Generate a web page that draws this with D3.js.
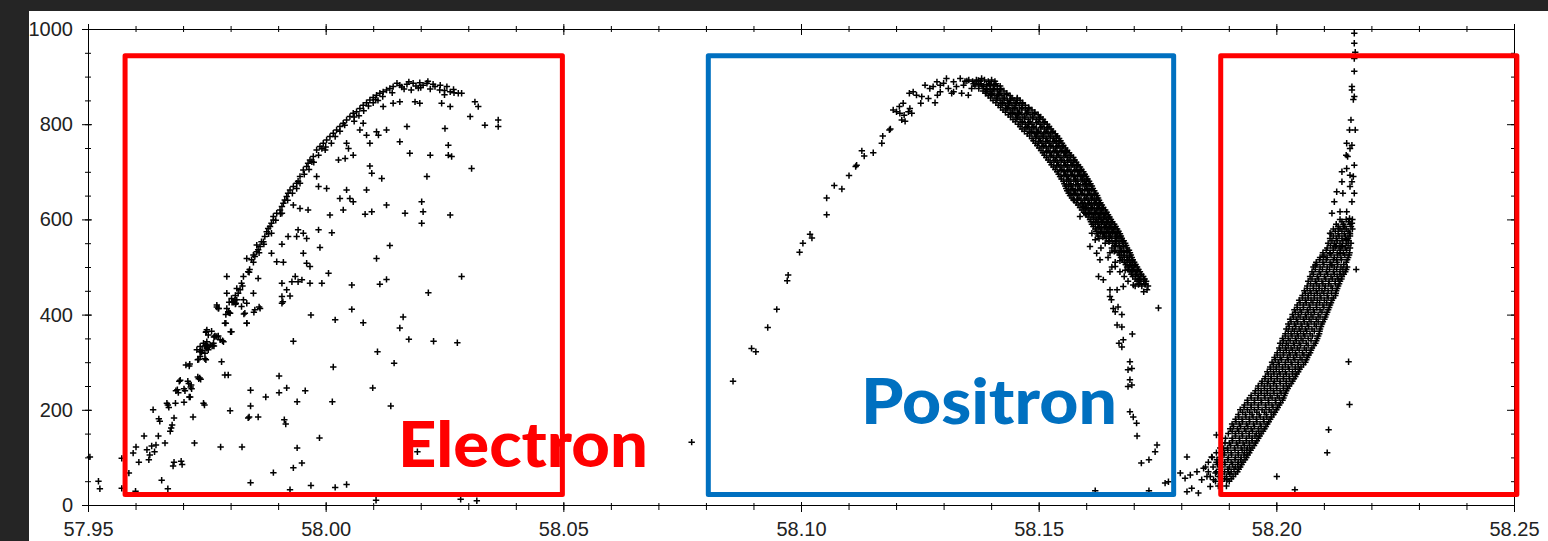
<!DOCTYPE html>
<html>
<head>
<meta charset="utf-8">
<script src="https://cdn.jsdelivr.net/npm/d3@7"></script>
<style>
  body { margin: 0; background: #252525; }
  .tick text { font-family: "Liberation Sans", Arial, sans-serif; font-size: 20px; fill: #222; }
  .domain, .tick line { stroke: #000; stroke-width: 1px; }
</style>
</head>
<body>
<div id="chart"></div>
<script>
// axis ticks
var xTicks = [57.95, 58.00, 58.05, 58.10, 58.15, 58.20, 58.25];
var yTicks = [0, 200, 400, 600, 800, 1000];

// electron branch (left) - scattered points [x, y]
var electronPts = [
  [57.9504,101],[57.9522,50],[57.9525,34],[57.9571,98],[57.9571,35],[57.9586,67],[57.9600,29],[57.9595,109],[57.9601,122],[57.9607,90],[57.9618,145],
  [57.9624,116],[57.9630,105],[57.9634,124],[57.9628,95],[57.9640,112],[57.9643,126],
  [57.9637,200],[57.9649,181],[57.9651,176],[57.9648,145],[57.9655,52],[57.9662,130],[57.9668,34],
  [57.9668,210],[57.9670,205],[57.9666,214],[57.9675,162],[57.9677,168],[57.9673,155],
  [57.9681,183],[57.9684,214],[57.9685,240],[57.9688,242],[57.9690,236],
  [57.9679,82],[57.9681,90],[57.9696,92],[57.9698,85],
  [57.9692,260],[57.9694,262],[57.9702,216],[57.9702,244],[57.9704,240],[57.9706,294],[57.9710,260],[57.9712,255],
  [57.9717,252],[57.9718,244],[57.9716,248],[57.9715,227],[57.9713,227],[57.9721,185],[57.9724,130],
  [57.9714,296],[57.9713,292],[57.9731,269],[57.9733,265],[57.9735,267],[57.9737,264],
  [57.9731,305],[57.9733,306],[57.9736,323],[57.9740,325],[57.9739,321],
  [57.9746,334],[57.9748,336],[57.9750,331],[57.9752,334],[57.9750,329],[57.9748,363],[57.9749,364],
  [57.9743,214],[57.9745,210],[57.9748,305],[57.9746,307],[57.9761,334],[57.9763,335],[57.9765,334],
  [57.9765,353],[57.9767,355],[57.9774,355],[57.9771,416],[57.9775,413],[57.9783,345],[57.9781,301],
  [57.9788,273],[57.9795,273],[57.9779,122],[57.9790,382],[57.9800,364],[57.9799,198],[57.9797,404],
  [57.9797,426],[57.9803,426],[57.9806,426],[57.9811,424],[57.9810,422],
  [57.9828,401],[57.9834,382],[57.9849,405],[57.9860,416],[57.9824,122],[57.9837,183],[57.9839,185],
  [57.9842,208],[57.9842,241],[57.9842,47],[57.9858,185],[57.9874,227],[57.9890,68],[57.9902,271],
  [57.9902,236],[57.9910,427],[57.9913,179],[57.9916,170],[57.9918,246],[57.9925,32],[57.9932,344],
  [57.9932,78],[57.9940,217],[57.9940,120],[57.9950,88],[57.9957,240],[57.9969,399],[57.9969,41],[57.9987,141],
  [58.0020,389],[58.0055,411],[58.0079,383],[58.0163,395],[58.0156,372],[58.0175,348],[58.0227,344],
  [58.0277,341],[58.0109,322],[58.0144,298],[58.0016,290],[58.0099,246],[58.0014,217],[58.0137,208],
  [58.0193,112],[58.0020,37],[58.0044,43],[58.0106,10],[58.0284,12],[58.0318,9],[58.0770,132],
  // upper edge
  [57.9729,326],[57.9736,333],[57.9743,340],[57.9750,343],[57.9757,336],[57.9753,326],[57.9746,319],[57.9736,312],
  [57.9750,368],[57.9753,357],[57.9767,354],[57.9778,347],[57.9771,420],[57.9774,413],[57.9792,413],[57.9795,406],
  [57.9813,431],[57.9802,434],[57.9806,427],[57.9792,445],[57.9816,445],[57.9827,431],[57.9834,424],[57.9820,452],
  [57.9823,466],[57.9827,480],[57.9837,490],[57.9813,455],[57.9834,518],[57.9844,515],[57.9851,522],[57.9855,532],
  [57.9862,543],[57.9869,553],[57.9858,536],[57.9848,525],[57.9855,546],[57.9865,553],[57.9872,564],[57.9876,574],
  [57.9883,585],[57.9886,592],[57.9890,599],[57.9879,581],[57.9886,571],[57.9890,606],[57.9897,613],[57.9904,620],
  [57.9908,627],[57.9911,634],[57.9914,641],[57.9918,648],[57.9908,613],[57.9921,655],[57.9925,662],[57.9932,669],
  [57.9939,676],[57.9946,676],[57.9939,665],[57.9946,690],[57.9953,704],[57.9960,711],[57.9963,718],[57.9967,725],
  [57.9974,732],[57.9971,721],[57.9981,746],[57.9988,753],[57.9995,760],[58.0002,767],[58.0009,774],[57.9992,749],
  [57.9999,746],[58.0016,781],[58.0023,788],[58.0030,795],[58.0037,802],[58.0044,809],[58.0051,816],[58.0058,823],
  [58.0065,826],[58.0072,833],[58.0079,840],[58.0086,845],[58.0093,851],[58.0100,856],[58.0107,861],[58.0114,865],
  [58.0121,868],[58.0128,872],[58.0135,875],[58.0142,879],[58.0156,882],[58.0171,884],[58.0184,886],[58.0198,887],
  [58.0213,886],[58.0226,884],[58.0241,882],[58.0255,879],[58.0269,873],[58.0279,865],[58.0286,865],[58.0314,847],
  [58.0321,837],[58.0363,809],[58.0363,795],[58.0335,798],[58.0304,816],
  [58.0160,878],[58.0190,880],[58.0205,882],[58.0230,879],[58.0175,889],[58.0215,890],[58.0250,871],[58.0262,868],
  [58.0105,852],[58.0090,838],[58.0060,815],[58.0040,798],[58.0020,774],[58.0150,886],[58.0165,874],[58.0200,877],
  [58.0240,872],[58.0270,866],
  // just below the edge
  [58.0100,845],[58.0120,858],[58.0140,866],[58.0180,872],[58.0220,874],[58.0250,862],[58.0080,828],[58.0060,806],
  [58.0030,785],[58.0000,752],[57.9975,720],[57.9955,695],[57.9930,655],[57.9905,612],[57.9880,570],[57.9860,530],
  [57.9840,495],[57.9825,460],[57.9810,440],[57.9790,400],[57.9760,365],[58.0012,760],[57.9985,735],[57.9965,705],
  [57.9942,680],[57.9920,640],[57.9895,598],[57.9870,548],[57.9848,510],[58.0070,818],[58.0110,850],[58.0195,876],
  // interior
  [58.0121,837],[58.0156,847],[58.0142,844],[58.0188,847],[58.0198,844],[58.0244,844],[58.0262,837],[58.0079,802],
  [58.0072,788],[58.0086,777],[58.0107,784],[58.0111,777],[58.0128,788],[58.0171,795],[58.0251,791],[58.0044,760],
  [58.0048,749],[58.0058,735],[58.0041,728],[58.0027,725],[58.0093,760],[58.0156,763],[58.0258,756],[58.0177,739],
  [58.0220,735],[58.0258,735],[58.0265,732],[58.0093,712],[58.0097,697],[58.0118,686],[58.0213,690],[58.0307,707],
  [57.9981,690],[57.9985,669],[58.0002,665],[58.0044,662],[58.0086,662],[58.0030,644],[58.0051,644],[58.0058,637],
  [58.0128,630],[58.0202,637],[58.0205,616],[58.0167,613],[58.0262,609],[58.0202,592],[58.0083,611],[58.0097,616],
  [58.0009,609],[58.0037,620],[57.9963,620],[57.9946,623],[57.9932,630],[57.9985,578],[58.0013,572],[57.9953,571],
  [57.9960,560],[57.9942,578],[57.9921,564],[57.9939,564],[57.9908,548],[57.9953,529],[57.9988,541],[57.9960,508],
  [57.9967,501],[57.9897,511],[57.9911,510],[57.9886,529],[58.0006,487],[57.9950,473],[57.9942,469],[57.9936,480],
  [57.9908,466],[57.9929,469],[57.9967,466],[57.9992,466],[58.0055,462],[58.0114,464],[58.0128,474],[58.0216,446],
  [58.0286,480],[58.0135,545],[58.0107,518],[57.9918,452],[57.9908,438],[57.9925,439],[57.9908,424],
  [57.9848,445],[57.9862,413],[57.9851,410],[57.9834,382],[57.9830,403],[57.9823,417],[57.9809,431],[57.9799,403],
  [57.9788,382],[57.9802,364],[57.9785,343],[57.9771,354],[57.9764,340],[57.9792,480],[57.9858,476],[57.9839,489]
];

// positron branch - scattered points
var positronPts = [
  [58.0857,260],[58.0896,329],[58.0905,322],[58.0930,373],[58.0949,411],[58.0971,471],[58.0973,483],[58.0997,531],
  [58.1004,550],[58.1019,569],[58.1023,561],[58.1054,610],[58.1054,645],[58.1070,671],[58.1086,664],[58.1101,692],
  [58.1115,711],[58.1117,714],[58.1128,744],[58.1133,733],[58.1152,740],[58.1170,760],[58.1172,775],[58.1186,788],[58.1188,790],
  [58.1194,830],[58.1201,826],[58.1208,823],[58.1212,809],[58.1219,806],[58.1217,819],[58.1207,837],[58.1215,844],
  [58.1226,826],[58.1233,823],[58.1229,833],[58.1228,865],[58.1236,868],[58.1243,861],[58.1254,858],[58.1252,844],
  [58.1261,882],[58.1271,875],[58.1278,879],[58.1282,845],[58.1268,854],[58.1287,861],[58.1293,868],
  [58.1300,886],[58.1306,896],[58.1310,875],[58.1317,865],[58.1321,889],[58.1327,879],[58.1335,896],[58.1338,865],
  [58.1342,882],[58.1349,891],[58.1352,861],[58.1359,875],[58.1366,886],[58.1373,892],[58.1380,896],[58.1384,879],
  [58.1391,868],[58.1398,882],[58.1405,875],[58.1321,868],[58.1293,882],[58.1286,889],
  [58.1563,669],[58.1566,655],[58.1573,641],[58.1587,606],[58.1594,627],[58.1598,613],[58.1612,571],[58.1619,557],
  [58.1608,543],[58.1622,529],[58.1629,515],[58.1626,480],[58.1636,473],[58.1650,452],[58.1665,452],[58.1650,490],
  [58.1661,501],[58.1678,459],[58.1699,462],[58.1721,448],[58.1728,452],
  [58.1653,431],[58.1650,438],[58.1657,413],[58.1667,416],[58.1661,406],[58.1675,400],[58.1665,378],[58.1675,374],
  [58.1669,340],[58.1678,347],[58.1675,332],[58.1697,359],[58.1752,414],[58.1692,301],[58.1688,284],[58.1696,287],
  [58.1692,263],[58.1688,249],[58.1696,252],[58.1692,196],[58.1699,185],[58.1706,172],[58.1707,145],[58.1749,126],
  [58.1745,112],[58.1716,88],[58.1732,95],[58.1619,30],[58.1732,30],[58.1766,46],[58.1773,49]
];

// positron dense band: [y, [x values]]
var positronRows = [
  [890,[58.1345,58.1361,58.1377,58.1394,58.1408]],
  [885,[58.1363,58.1379,58.1396,58.1410]],
  [880,[58.1366,58.1381,58.1398,58.1413,58.1419]],
  [875,[58.1374,58.1390,58.1405,58.1420]],
  [870,[58.1383,58.1398,58.1413,58.1427]],
  [865,[58.1388,58.1402,58.1418,58.1433]],
  [860,[58.1394,58.1408,58.1423,58.1440]],
  [855,[58.1399,58.1413,58.1428,58.1444,58.1455]],
  [850,[58.1404,58.1419,58.1434,58.1448,58.1461]],
  [845,[58.1410,58.1424,58.1439,58.1453,58.1466]],
  [840,[58.1415,58.1430,58.1444,58.1459,58.1472]],
  [835,[58.1420,58.1435,58.1450,58.1465,58.1479]],
  [830,[58.1425,58.1440,58.1455,58.1472,58.1486]],
  [825,[58.1430,58.1445,58.1460,58.1477,58.1492]],
  [820,[58.1436,58.1451,58.1465,58.1482,58.1499]],
  [815,[58.1441,58.1456,58.1471,58.1488,58.1504]],
  [810,[58.1446,58.1461,58.1478,58.1495,58.1509]],
  [805,[58.1451,58.1466,58.1482,58.1499,58.1513]],
  [800,[58.1457,58.1472,58.1486,58.1503,58.1518]],
  [795,[58.1461,58.1476,58.1490,58.1507,58.1522]],
  [790,[58.1465,58.1480,58.1495,58.1512,58.1526]],
  [785,[58.1470,58.1485,58.1500,58.1516,58.1530]],
  [780,[58.1476,58.1491,58.1505,58.1520,58.1535]],
  [775,[58.1481,58.1496,58.1510,58.1525,58.1539]],
  [770,[58.1486,58.1501,58.1516,58.1531,58.1543]],
  [765,[58.1489,58.1504,58.1519,58.1534,58.1546]],
  [760,[58.1493,58.1507,58.1522,58.1537,58.1549]],
  [755,[58.1497,58.1511,58.1526,58.1541,58.1552]],
  [750,[58.1501,58.1516,58.1531,58.1545,58.1556]],
  [745,[58.1505,58.1520,58.1535,58.1549,58.1560]],
  [740,[58.1509,58.1524,58.1539,58.1554,58.1564]],
  [735,[58.1512,58.1527,58.1542,58.1557,58.1568]],
  [730,[58.1516,58.1531,58.1545,58.1560,58.1573]],
  [725,[58.1520,58.1535,58.1549,58.1564,58.1576]],
  [720,[58.1524,58.1539,58.1554,58.1568,58.1579]],
  [715,[58.1527,58.1542,58.1557,58.1571,58.1583]],
  [710,[58.1531,58.1545,58.1560,58.1575,58.1587]],
  [705,[58.1535,58.1549,58.1564,58.1579,58.1590]],
  [700,[58.1539,58.1554,58.1568,58.1583,58.1594]],
  [695,[58.1542,58.1557,58.1571,58.1586,58.1597]],
  [690,[58.1545,58.1560,58.1575,58.1589,58.1600]],
  [685,[58.1548,58.1563,58.1578,58.1592,58.1603]],
  [680,[58.1552,58.1566,58.1581,58.1596,58.1606]],
  [675,[58.1554,58.1568,58.1583,58.1598,58.1609]],
  [670,[58.1556,58.1570,58.1585,58.1600,58.1612]],
  [665,[58.1558,58.1572,58.1587,58.1602,58.1614]],
  [660,[58.1560,58.1575,58.1589,58.1604,58.1617]],
  [655,[58.1563,58.1578,58.1592,58.1607,58.1620]],
  [650,[58.1566,58.1581,58.1596,58.1610,58.1623]],
  [645,[58.1570,58.1585,58.1600,58.1613,58.1625]],
  [640,[58.1575,58.1589,58.1604,58.1617,58.1627]],
  [635,[58.1579,58.1593,58.1607,58.1620,58.1630]],
  [630,[58.1583,58.1598,58.1610,58.1623,58.1633]],
  [625,[58.1587,58.1601,58.1613,58.1626,58.1636]],
  [620,[58.1591,58.1604,58.1617,58.1629,58.1640]],
  [615,[58.1595,58.1608,58.1621,58.1632,58.1643]],
  [610,[58.1600,58.1612,58.1625,58.1636,58.1646]],
  [605,[58.1604,58.1616,58.1628,58.1639,58.1649]],
  [600,[58.1608,58.1621,58.1631,58.1642,58.1652]],
  [595,[58.1610,58.1623,58.1634,58.1645,58.1655]],
  [590,[58.1612,58.1625,58.1638,58.1648,58.1659]],
  [585,[58.1615,58.1628,58.1641,58.1651,58.1662]],
  [580,[58.1619,58.1631,58.1644,58.1654,58.1665]],
  [575,[58.1621,58.1633,58.1646,58.1657,58.1668]],
  [570,[58.1623,58.1636,58.1648,58.1661,58.1671]],
  [565,[58.1625,58.1639,58.1651,58.1664,58.1673]],
  [560,[58.1627,58.1642,58.1654,58.1667,58.1675]],
  [555,[58.1648,58.1662,58.1676,58.1679]],
  [550,[58.1640,58.1656,58.1669,58.1682]],
  [545,[58.1660,58.1670,58.1684]],
  [540,[58.1631,58.1654,58.1671,58.1686]],
  [535,[58.1660,58.1673,58.1686,58.1690]],
  [530,[58.1650,58.1667,58.1680,58.1692]],
  [525,[58.1670,58.1680,58.1694]],
  [520,[58.1646,58.1673,58.1686,58.1696]],
  [515,[58.1676,58.1688,58.1698]],
  [510,[58.1661,58.1680,58.1692,58.1701]],
  [505,[58.1683,58.1694,58.1704]],
  [500,[58.1654,58.1686,58.1696,58.1707]],
  [495,[58.1689,58.1699,58.1710]],
  [490,[58.1671,58.1692,58.1703,58.1713]],
  [485,[58.1695,58.1706,58.1716]],
  [480,[58.1680,58.1698,58.1709,58.1720]],
  [475,[58.1703,58.1712,58.1723]],
  [470,[58.1688,58.1707,58.1715,58.1726]],
  [465,[58.1712,58.1724]],
  [460,[58.1703,58.1717,58.1730]]
];

// positron band, points lying between the columns above
var positronRowsMid = [
  [893,[58.1353,58.1369,58.1386,58.1401]],
  [883,[58.1374,58.1390,58.1406]],
  [873,[58.1391,58.1406,58.1420]],
  [863,[58.1401,58.1416,58.1432]],
  [853,[58.1412,58.1427,58.1441,58.1455]],
  [843,[58.1423,58.1437,58.1452,58.1466]],
  [833,[58.1433,58.1448,58.1464,58.1479]],
  [823,[58.1444,58.1458,58.1474,58.1491]],
  [813,[58.1454,58.1470,58.1487,58.1502]],
  [803,[58.1465,58.1479,58.1495,58.1511]],
  [793,[58.1473,58.1488,58.1504,58.1519]],
  [783,[58.1484,58.1498,58.1513,58.1528]],
  [773,[58.1494,58.1509,58.1524,58.1537]],
  [763,[58.1500,58.1515,58.1530,58.1543]],
  [753,[58.1509,58.1524,58.1538,58.1551]],
  [743,[58.1517,58.1532,58.1547,58.1559]],
  [733,[58.1524,58.1538,58.1553,58.1567]],
  [723,[58.1532,58.1547,58.1561,58.1574]],
  [713,[58.1538,58.1553,58.1568,58.1581]],
  [703,[58.1547,58.1561,58.1576,58.1589]],
  [693,[58.1553,58.1568,58.1582,58.1595]],
  [683,[58.1559,58.1574,58.1589,58.1601]],
  [673,[58.1563,58.1578,58.1593,58.1606]],
  [663,[58.1568,58.1582,58.1597,58.1611]],
  [653,[58.1574,58.1589,58.1603,58.1617]],
  [643,[58.1582,58.1597,58.1611,58.1622]],
  [633,[58.1591,58.1604,58.1617,58.1628]],
  [623,[58.1598,58.1611,58.1623,58.1635]],
  [613,[58.1606,58.1619,58.1631,58.1641]],
  [603,[58.1615,58.1626,58.1637,58.1647]],
  [593,[58.1619,58.1632,58.1643,58.1654]],
  [583,[58.1625,58.1638,58.1649,58.1660]],
  [573,[58.1630,58.1642,58.1655,58.1666]],
  [563,[58.1635,58.1648,58.1661,58.1671]],
  [553,[58.1648,58.1663,58.1676]],
  [543,[58.1662,58.1678]],
  [533,[58.1659,58.1674,58.1686]],
  [523,[58.1680,58.1691]],
  [513,[58.1671,58.1686,58.1697]],
  [503,[58.1691,58.1702]],
  [493,[58.1682,58.1698,58.1708]],
  [483,[58.1704,58.1715]],
  [473,[58.1711,58.1721]],
  [463,[58.1710,58.1724]]
];

// right electron branch - scattered points
var rightPts = [
  [58.1812,101],[58.1798,67],[58.1808,56],[58.1819,63],[58.1833,70],[58.1847,77],[58.1843,53],[58.1854,60],
  [58.1822,35],[58.1812,28],[58.1836,25],[58.1861,39],[58.1868,53],[58.1872,67],[58.1875,95],[58.1874,147],
  [58.1864,101],[58.1889,119],[58.1892,130],[58.1899,70],[58.1896,53],
  [58.2164,991],[58.2164,970],[58.2166,951],[58.2164,938],[58.2164,911],[58.2159,879],[58.2159,872],[58.2164,858],[58.2162,852],
  [58.2157,809],[58.2154,788],[58.2166,788],[58.2148,760],[58.2159,756],[58.2155,749],[58.2147,735],[58.2150,732],
  [58.2164,714],[58.2148,707],[58.2138,700],[58.2155,693],[58.2162,690],[58.2138,679],[58.2159,679],[58.2127,658],
  [58.2155,669],[58.2164,655],[58.2140,655],[58.2159,637],[58.2122,637],[58.2134,616],[58.2148,616],[58.2117,613],
  [58.2154,602],[58.2159,592],[58.2141,585],[58.2131,581],[58.2154,571],[58.2113,571],[58.2148,557],[58.2138,543],
  [58.2124,543],[58.2134,529],[58.2099,522],[58.2082,504],[58.2113,529],[58.2127,515],[58.2117,504],[58.2168,495],
  [58.2152,301],[58.2154,211],[58.2110,158],[58.2107,110],[58.2001,60],[58.2039,32]
];

// right branch dense band: [y, [x values]]
var rightRows = [
  [600,[58.2134,58.2147,58.2160]],
  [595,[58.2138,58.2152]],
  [590,[58.2126,58.2141,58.2155]],
  [585,[58.2130,58.2144,58.2157]],
  [580,[58.2120,58.2134,58.2147,58.2160]],
  [575,[58.2124,58.2138,58.2151]],
  [570,[58.2115,58.2130,58.2143,58.2155]],
  [565,[58.2120,58.2132,58.2145,58.2155]],
  [560,[58.2113,58.2126,58.2138,58.2151]],
  [555,[58.2117,58.2128,58.2140,58.2152]],
  [550,[58.2109,58.2122,58.2134,58.2147,58.2157]],
  [545,[58.2114,58.2126,58.2139,58.2151]],
  [540,[58.2107,58.2120,58.2132,58.2145,58.2155]],
  [535,[58.2105,58.2120,58.2135,58.2148]],
  [530,[58.2098,58.2113,58.2128,58.2141,58.2154]],
  [525,[58.2100,58.2115,58.2129,58.2144,58.2153]],
  [520,[58.2092,58.2107,58.2122,58.2136,58.2151]],
  [515,[58.2091,58.2105,58.2120,58.2137,58.2149]],
  [510,[58.2084,58.2098,58.2113,58.2128,58.2147]],
  [505,[58.2085,58.2100,58.2115,58.2129,58.2142]],
  [500,[58.2078,58.2092,58.2107,58.2122,58.2136,58.2149]],
  [495,[58.2082,58.2097,58.2112,58.2127,58.2140,58.2147]],
  [490,[58.2075,58.2090,58.2105,58.2120,58.2134,58.2145]],
  [485,[58.2078,58.2093,58.2108,58.2122,58.2134,58.2142]],
  [480,[58.2071,58.2086,58.2101,58.2115,58.2128,58.2138]],
  [475,[58.2075,58.2089,58.2104,58.2118,58.2130,58.2137]],
  [470,[58.2067,58.2082,58.2096,58.2111,58.2124,58.2134]],
  [465,[58.2072,58.2085,58.2098,58.2110,58.2124,58.2132]],
  [460,[58.2065,58.2078,58.2090,58.2103,58.2115,58.2130]],
  [455,[58.2065,58.2078,58.2090,58.2102,58.2118,58.2128]],
  [450,[58.2059,58.2071,58.2084,58.2096,58.2109,58.2126]],
  [445,[58.2061,58.2073,58.2086,58.2100,58.2116,58.2125]],
  [440,[58.2055,58.2067,58.2080,58.2092,58.2107,58.2124]],
  [435,[58.2055,58.2067,58.2080,58.2094,58.2109,58.2120]],
  [430,[58.2048,58.2061,58.2073,58.2086,58.2101,58.2117]],
  [425,[58.2050,58.2063,58.2077,58.2091,58.2106,58.2115]],
  [420,[58.2044,58.2057,58.2069,58.2084,58.2098,58.2113]],
  [415,[58.2044,58.2057,58.2071,58.2085,58.2100,58.2111]],
  [410,[58.2038,58.2050,58.2065,58.2078,58.2092,58.2109]],
  [405,[58.2040,58.2053,58.2067,58.2080,58.2096,58.2107]],
  [400,[58.2034,58.2046,58.2061,58.2073,58.2088,58.2105]],
  [395,[58.2036,58.2050,58.2063,58.2077,58.2092,58.2103]],
  [390,[58.2029,58.2042,58.2057,58.2069,58.2084,58.2101]],
  [385,[58.2031,58.2045,58.2059,58.2073,58.2088,58.2098]],
  [380,[58.2025,58.2038,58.2052,58.2065,58.2080,58.2096]],
  [375,[58.2027,58.2041,58.2054,58.2068,58.2084,58.2094]],
  [370,[58.2021,58.2034,58.2048,58.2061,58.2075,58.2092]],
  [365,[58.2025,58.2038,58.2051,58.2064,58.2080,58.2091]],
  [360,[58.2019,58.2031,58.2044,58.2057,58.2071,58.2090]],
  [355,[58.2019,58.2033,58.2046,58.2060,58.2076,58.2088]],
  [350,[58.2013,58.2025,58.2040,58.2052,58.2067,58.2086]],
  [345,[58.2015,58.2029,58.2042,58.2056,58.2073,58.2084]],
  [340,[58.2008,58.2021,58.2036,58.2048,58.2063,58.2082]],
  [335,[58.2013,58.2025,58.2038,58.2051,58.2067,58.2079]],
  [330,[58.2006,58.2019,58.2031,58.2044,58.2059,58.2075]],
  [325,[58.2008,58.2021,58.2034,58.2048,58.2063,58.2073]],
  [320,[58.2002,58.2015,58.2027,58.2040,58.2055,58.2071]],
  [315,[58.2002,58.2015,58.2029,58.2043,58.2058,58.2068]],
  [310,[58.1996,58.2008,58.2023,58.2036,58.2050,58.2065]],
  [305,[58.1998,58.2011,58.2025,58.2039,58.2054,58.2063]],
  [300,[58.1991,58.2004,58.2019,58.2031,58.2046,58.2061]],
  [295,[58.1994,58.2006,58.2019,58.2033,58.2046,58.2057]],
  [290,[58.1987,58.2000,58.2013,58.2025,58.2040,58.2052]],
  [285,[58.1988,58.2000,58.2013,58.2027,58.2040,58.2049]],
  [280,[58.1981,58.1994,58.2006,58.2019,58.2034,58.2046]],
  [275,[58.1983,58.1995,58.2008,58.2021,58.2034,58.2043]],
  [270,[58.1977,58.1989,58.2002,58.2015,58.2027,58.2040]],
  [265,[58.1976,58.1989,58.2002,58.2015,58.2028,58.2037]],
  [260,[58.1970,58.1983,58.1996,58.2008,58.2021,58.2034]],
  [255,[58.1969,58.1981,58.1994,58.2008,58.2021,58.2031]],
  [250,[58.1962,58.1975,58.1987,58.2000,58.2015,58.2027]],
  [245,[58.1962,58.1975,58.1988,58.2001,58.2015,58.2024]],
  [240,[58.1956,58.1968,58.1981,58.1994,58.2008,58.2021]],
  [235,[58.1955,58.1968,58.1981,58.1995,58.2010,58.2019]],
  [230,[58.1947,58.1962,58.1975,58.1987,58.2002,58.2017]],
  [225,[58.1947,58.1961,58.1976,58.1991,58.2006,58.2015]],
  [220,[58.1939,58.1954,58.1968,58.1983,58.1998,58.2013]],
  [215,[58.1940,58.1954,58.1969,58.1984,58.1999,58.2009]],
  [210,[58.1933,58.1947,58.1962,58.1977,58.1991,58.2006]],
  [205,[58.1932,58.1947,58.1962,58.1978,58.1993,58.2003]],
  [200,[58.1924,58.1939,58.1954,58.1970,58.1985,58.2000]],
  [195,[58.1929,58.1944,58.1959,58.1975,58.1989,58.1997]],
  [190,[58.1920,58.1935,58.1949,58.1964,58.1979,58.1994]],
  [185,[58.1921,58.1936,58.1951,58.1966,58.1980,58.1990]],
  [180,[58.1914,58.1928,58.1943,58.1958,58.1973,58.1987]],
  [175,[58.1915,58.1929,58.1944,58.1959,58.1974,58.1984]],
  [170,[58.1907,58.1922,58.1937,58.1952,58.1966,58.1981]],
  [165,[58.1910,58.1925,58.1940,58.1954,58.1968,58.1978]],
  [160,[58.1903,58.1918,58.1933,58.1947,58.1962,58.1975]],
  [155,[58.1907,58.1921,58.1936,58.1950,58.1963,58.1972]],
  [150,[58.1899,58.1914,58.1928,58.1943,58.1958,58.1968]],
  [145,[58.1914,58.1929,58.1943,58.1955,58.1965]],
  [140,[58.1893,58.1907,58.1922,58.1937,58.1949,58.1962]],
  [135,[58.1908,58.1923,58.1937,58.1949,58.1959]],
  [130,[58.1886,58.1901,58.1916,58.1930,58.1943,58.1956]],
  [125,[58.1904,58.1919,58.1933,58.1944,58.1953]],
  [120,[58.1882,58.1897,58.1912,58.1926,58.1939,58.1949]],
  [115,[58.1898,58.1913,58.1928,58.1938,58.1946]],
  [110,[58.1874,58.1891,58.1905,58.1920,58.1933,58.1943]],
  [105,[58.1890,58.1906,58.1920,58.1932,58.1940]],
  [100,[58.1865,58.1882,58.1899,58.1914,58.1926,58.1937]],
  [95,[58.1882,58.1898,58.1913,58.1925,58.1934]],
  [90,[58.1857,58.1874,58.1891,58.1905,58.1920,58.1930]],
  [85,[58.1876,58.1892,58.1908,58.1919,58.1927]],
  [80,[58.1851,58.1867,58.1884,58.1901,58.1914,58.1924]],
  [75,[58.1882,58.1898,58.1911,58.1921]],
  [70,[58.1857,58.1874,58.1891,58.1905,58.1918]],
  [65,[58.1886,58.1902,58.1914]],
  [60,[58.1861,58.1878,58.1895,58.1909]],
  [55,[58.1891,58.1905]],
  [50,[58.1872,58.1886,58.1901]],
  [40,[58.1878,58.1895]]
];

// annotation boxes in data units: [x0, x1, y0, y1]
var boxNames = ["electronL", "positron", "electronR"];
var boxExtents = [[57.9578, 58.0498, 22, 944], [58.0805, 58.1784, 22, 944], [58.1883, 58.2506, 22, 944]];
var labelNames = ["Electron", "Positron"];
var labelAnchors = [[58.0152, 80], [58.1126, 170]];

var boxColor = { electronL: "#ff0000", positron: "#0070c0", electronR: "#ff0000" };
var labelColor = { Electron: "#ff0000", Positron: "#0070c0" };
var labelWidth = { Electron: 250, Positron: 256 };

var W = 1548, H = 541;
var svg = d3.select("#chart").append("svg").attr("width", W).attr("height", H);

svg.append("rect").attr("width", W).attr("height", H).attr("fill", "#252525");
svg.append("rect").attr("x", 29).attr("y", 11).attr("width", W - 29).attr("height", H - 11).attr("fill", "#fff");

var x = d3.scaleLinear().domain([57.95, 58.25]).range([88, 1514]);
var y = d3.scaleLinear().domain([0, 1000]).range([505, 29]);

// minor ticks (no labels)
var xMinor = x.ticks(30), yMinor = y.ticks(20);

var g = svg.append("g");

// bottom axis
g.append("g").attr("transform", "translate(0,505)")
  .call(d3.axisBottom(x).tickValues(xMinor).tickSize(5).tickSizeOuter(0).tickFormat(""))
  .call(function(s) { s.selectAll(".tick line").attr("y1", -2); });
g.append("g").attr("transform", "translate(0,505)")
  .call(d3.axisBottom(x).tickValues(xTicks).tickSize(7).tickSizeOuter(0).tickPadding(10).tickFormat(d3.format(".2f")))
  .call(function(s) { s.selectAll(".tick line").attr("y1", -3); s.select(".domain").remove(); });

// left axis
g.append("g").attr("transform", "translate(88,0)")
  .call(d3.axisLeft(y).tickValues(yMinor).tickSize(3).tickSizeOuter(0).tickFormat(""))
  .call(function(s) { s.selectAll(".tick line").attr("x1", 3); });
g.append("g").attr("transform", "translate(88,0)")
  .call(d3.axisLeft(y).tickValues(yTicks).tickSize(6).tickSizeOuter(0).tickPadding(9).tickFormat(d3.format("d")))
  .call(function(s) { s.selectAll(".tick line").attr("x1", 4); s.select(".domain").remove(); });

// top axis
g.append("g").attr("transform", "translate(0,29)")
  .call(d3.axisTop(x).tickValues(xMinor).tickSize(3).tickSizeOuter(0).tickFormat(""))
  .call(function(s) { s.selectAll(".tick line").attr("y1", 3); });
g.append("g").attr("transform", "translate(0,29)")
  .call(d3.axisTop(x).tickValues(xTicks).tickSize(5).tickSizeOuter(0).tickFormat(""))
  .call(function(s) { s.selectAll(".tick line").attr("y1", 6); s.select(".domain").remove(); });

// right axis (ticks inward)
g.append("g").attr("transform", "translate(1514,0)")
  .call(d3.axisLeft(y).tickValues(yMinor).tickSize(3).tickSizeOuter(0).tickFormat(""));
g.append("g").attr("transform", "translate(1514,0)")
  .call(d3.axisLeft(y).tickValues(yTicks).tickSize(7).tickSizeOuter(0).tickFormat(""))
  .call(function(s) { s.select(".domain").remove(); });

// all points
var pts = electronPts.concat(positronPts, rightPts);
positronRows.concat(positronRowsMid, rightRows).forEach(function(r) {
  r[1].forEach(function(v) { pts.push([v, r[0]]); });
});

svg.append("g").selectAll("path")
  .data(pts)
  .join("path")
  .attr("transform", function(d) { return "translate(" + x(d[0]) + "," + y(d[1]) + ")"; })
  .attr("d", "M-3.2,0H3.2M0,-3.2V3.2")
  .attr("stroke", "#000")
  .attr("stroke-width", 1.5)
  .attr("fill", "none");

// boxes
svg.append("g").selectAll("rect")
  .data(boxExtents)
  .join("rect")
  .attr("x", function(d) { return x(d[0]); })
  .attr("y", function(d) { return y(d[3]); })
  .attr("width", function(d) { return x(d[1]) - x(d[0]); })
  .attr("height", function(d) { return y(d[2]) - y(d[3]); })
  .attr("fill", "none")
  .attr("stroke", function(d, i) { return boxColor[boxNames[i]]; })
  .attr("stroke-width", 5)
  .attr("stroke-linejoin", "round");

// labels
svg.append("g").selectAll("text")
  .data(labelNames)
  .join("text")
  .attr("x", function(d, i) { return x(labelAnchors[i][0]); })
  .attr("y", function(d, i) { return y(labelAnchors[i][1]); })
  .attr("fill", function(d) { return labelColor[d]; })
  .attr("textLength", function(d) { return labelWidth[d]; })
  .attr("lengthAdjust", "spacingAndGlyphs")
  .style("font-family", "Lato, 'DejaVu Sans', sans-serif")
  .style("font-weight", 900)
  .style("font-size", "62px")
  .text(function(d) { return d; });
</script>
</body>
</html>
